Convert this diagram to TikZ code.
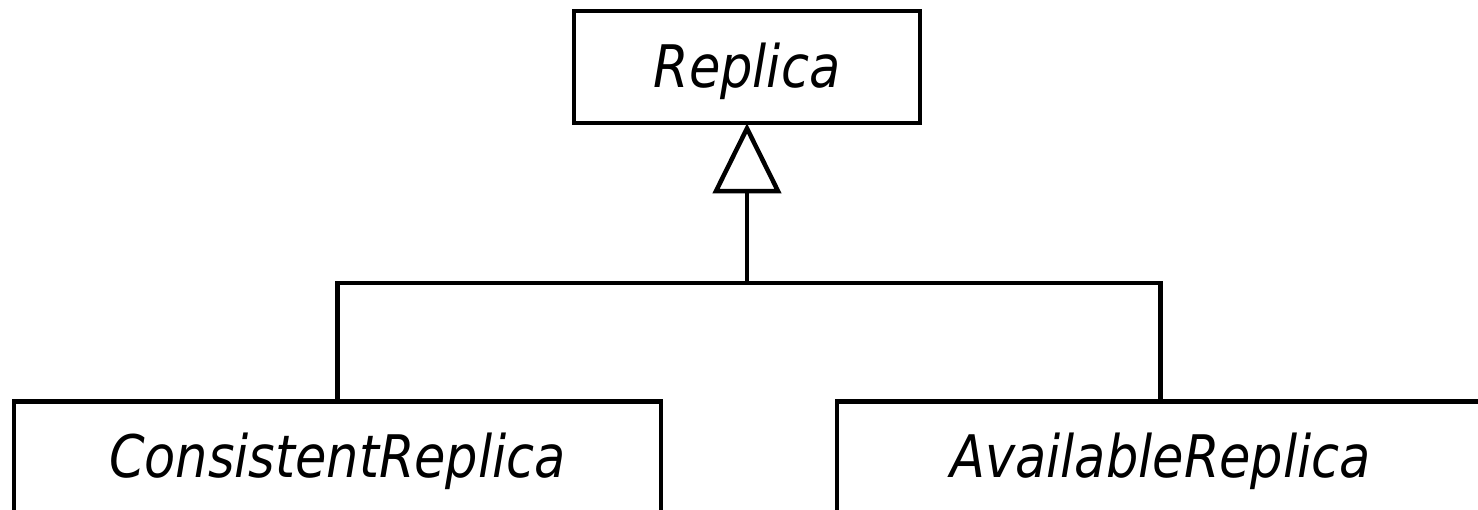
\documentclass[tikz,border=0pt]{standalone}
\usepackage{fontspec}
\newfontfamily\umlfont{DejaVu Sans}
\usetikzlibrary{arrows.meta}
\newcommand{\umltext}[1]{\raisebox{-4pt}[\height][\depth]{\scalebox{1}[1.15]{#1}}}
\tikzset{
  cls/.style={draw=black, line width=4.5pt, fill=white, inner sep=0pt,
    font=\umlfont\itshape\fontsize{51}{60}\selectfont},
  conn/.style={draw=black, line width=4.5pt},
  gen/.style={conn, shorten >=-2pt, -{Triangle[open, length=70pt, width=68pt, line width=4.5pt]}}
}
\begin{document}
\begin{tikzpicture}[x=1pt, y=-1pt]
\useasboundingbox (0,0) rectangle (1478,509);
\clip (0,0) rectangle (1478,509);
\node[cls, minimum width=346pt, minimum height=112pt] (rep) at (747,67) {\umltext{Replica}};
\node[cls, minimum width=647pt, minimum height=112pt, anchor=north] (cr) at (337.5,399) {\umltext{ConsistentReplica}};
\node[cls, minimum width=647pt, minimum height=112pt, anchor=north] (ar) at (1160.5,399) {\umltext{AvailableReplica}};
\coordinate (j) at (747,283);
\draw[conn] (cr.north) |- (j) -| (ar.north);
\draw[gen] (j) -- (rep.south);
\end{tikzpicture}
\end{document}
